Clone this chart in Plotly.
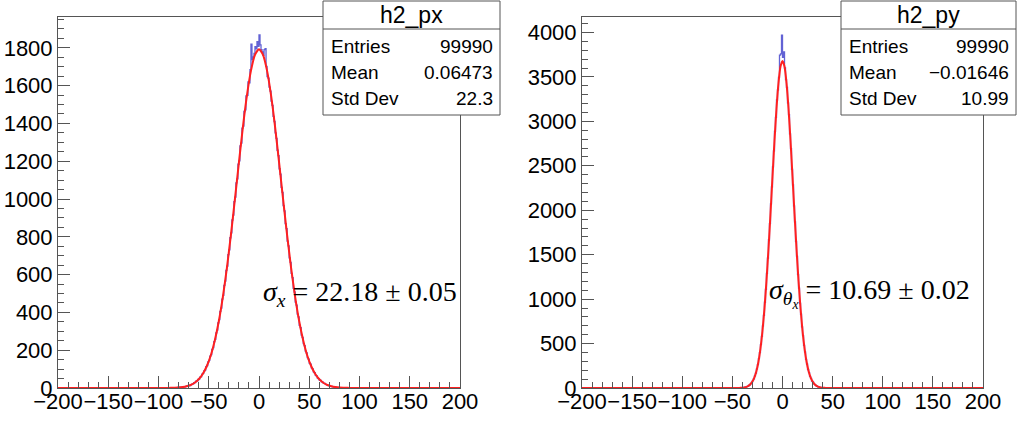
import plotly.graph_objects as go

W, H = 1017, 421

# ---------------- data ----------------
# h2_px : 1-unit bins, centres from -84.5 to 84.5
px_first_centre = -84.5
px_counts = [
    1, 0, 2, 1, 3, 2, 4, 3, 5, 4, 7, 6, 9, 11, 10, 14, 13, 18, 21, 22,
    28, 29, 36, 37, 45, 47, 57, 60, 73, 77, 91, 95, 113, 119, 138, 146, 169, 177, 204, 214,
    245, 257, 292, 306, 345, 362, 405, 423, 470, 490, 543, 566, 622, 645, 706, 731, 795, 821, 889, 915,
    986, 1010, 1085, 1106, 1184, 1202, 1281, 1296, 1375, 1386, 1463, 1472, 1546, 1548, 1620, 1615, 1685, 1820, 1738, 1752,
    1770, 1806, 1795, 1832, 1808,
    1868, 1815, 1790, 1778, 1760, 1790, 1795, 1702, 1648, 1640, 1592, 1571, 1518, 1495, 1437, 1410, 1350, 1321, 1258, 1230,
    1160, 1131, 1062, 1035, 965, 937, 870, 843, 777, 752, 688, 665, 606, 584, 527, 508, 455, 439, 391, 376,
    332, 319, 280, 268, 235, 224, 195, 186, 161, 153, 131, 126, 106, 101, 85, 81, 67, 64, 53, 50,
    41, 40, 32, 31, 25, 24, 19, 18, 14, 13, 11, 9, 8, 7, 5, 6, 4, 3, 3, 2,
    2, 1, 1, 1, 0,
]

# h2_py : 1-unit bins, centres from -44.5 to 44.5
py_first_centre = -44.5
py_counts = [
    1, 1, 2, 2, 3, 5, 6, 9, 10, 16, 19, 28, 36, 49, 62, 82, 104, 136, 168, 215,
    263, 330, 398, 489, 580, 698, 818, 965, 1110, 1290, 1462, 1668, 1850, 2072, 2262, 2487, 2668, 2888, 3045, 3240,
    3355, 3495, 3745, 3760, 3970,
    3720, 3780, 3600, 3470, 3382, 3208, 3075, 2860, 2694, 2460, 2284, 2050, 1870, 1648, 1480, 1275, 1124, 952, 830, 688,
    590, 480, 406, 322, 270, 208, 174, 130, 108, 78, 65, 46, 38, 26, 21, 14, 12, 7, 6, 4,
    3, 2, 1, 1, 0,
]

# Gaussian fit curves
fit_px_x = [-200, -100, -96, -92, -88, -84, -80, -76, -72, -68, -64, -60, -56, -52, -48, -44, -40, -36, -32, -28,
            -24, -20, -16, -12, -8, -4, 0, 4, 8, 12, 16, 20, 24, 28, 32, 36, 40, 44, 48, 52,
            56, 60, 64, 68, 72, 76, 80, 84, 88, 92, 96, 100, 200]
fit_px_y = [0, 0.07, 0.15, 0.3, 0.7, 1.4, 2.7, 5.0, 9.3, 16, 28, 46, 74, 115, 172, 251, 353, 481, 633, 808,
            998, 1192, 1382, 1548, 1679, 1763, 1792, 1763, 1679, 1548, 1382, 1192, 998, 808, 633, 481, 353, 251, 172, 115,
            74, 46, 28, 16, 9.3, 5.0, 2.7, 1.4, 0.7, 0.3, 0.15, 0.07, 0]

fit_py_x = [-200, -50, -48, -46, -44, -42, -40, -38, -36, -34, -32, -30, -28, -26, -24, -22, -20, -18, -16, -14,
            -12, -10, -8, -6, -4, -2, 0, 2, 4, 6, 8, 10, 12, 14, 16, 18, 20, 22, 24, 26,
            28, 30, 32, 34, 36, 38, 40, 42, 44, 46, 48, 50, 200]
fit_py_y = [0, 0.06, 0.15, 0.35, 0.8, 1.6, 3.3, 6.6, 12.7, 23, 42, 72, 119, 191, 295, 442, 639, 894, 1202, 1561,
            1956, 2375, 2781, 3144, 3431, 3616, 3680, 3616, 3431, 3144, 2781, 2375, 1956, 1561, 1202, 894, 639, 442, 295, 191,
            119, 72, 42, 23, 12.7, 6.6, 3.3, 1.6, 0.8, 0.35, 0.15, 0.06, 0]

x_ticks = [-200, -150, -100, -50, 0, 50, 100, 150, 200]

stats_px = {"title": "h2_px", "Entries": "99990", "Mean": "0.06473", "Std Dev": "22.3"}
stats_py = {"title": "h2_py", "Entries": "99990", "Mean": "\u22120.01646", "Std Dev": "10.99"}

fit_label_px = "<i>\u03c3<sub>x</sub></i> = 22.18 \u00b1 0.05"
fit_label_py = "<i>\u03c3<sub>\u03b8<sub>x</sub></sub></i> = 10.69 \u00b1 0.02"

# ---------------- figure ----------------
def centres(first, n):
    return [first + i for i in range(n)]

HIST_COL = "rgba(70,70,205,0.85)"
FIT_COL = "#ff2020"

fig = go.Figure()
hx1 = centres(px_first_centre, len(px_counts))
hx2 = centres(py_first_centre, len(py_counts))
fig.add_trace(go.Scatter(x=[-200] + hx1 + [200], y=[0] + px_counts + [0], mode="lines",
                         line=dict(color=HIST_COL, width=1.3, shape="hvh"), xaxis="x", yaxis="y"))
fig.add_trace(go.Scatter(x=fit_px_x, y=fit_px_y, mode="lines",
                         line=dict(color=FIT_COL, width=2, shape="spline", smoothing=0.6), xaxis="x", yaxis="y"))
fig.add_trace(go.Scatter(x=[-200] + hx2 + [200], y=[0] + py_counts + [0], mode="lines",
                         line=dict(color=HIST_COL, width=1.3, shape="hvh"), xaxis="x2", yaxis="y2"))
fig.add_trace(go.Scatter(x=fit_py_x, y=fit_py_y, mode="lines",
                         line=dict(color=FIT_COL, width=2, shape="spline", smoothing=0.6), xaxis="x2", yaxis="y2"))

def px2x(p):
    return p / W

def px2y(p):
    return 1 - p / H

AX_COL = "#555555"
TICK_FONT = dict(family="Liberation Sans, Arial, sans-serif", size=22, color="black")

def xaxis(dom, anchor):
    return dict(domain=dom, anchor=anchor, range=[-200, 200], tickvals=x_ticks, tickangle=0,
                ticklabelstandoff=-6,
                ticks="inside", ticklen=12, tickcolor=AX_COL, tickwidth=1,
                minor=dict(ticks="inside", ticklen=6, dtick=10, tickcolor=AX_COL, tickwidth=1, showgrid=False),
                showline=True, linecolor=AX_COL, linewidth=1, mirror=True, automargin=False,
                showgrid=False, zeroline=False, tickfont=TICK_FONT)

def yaxis(dom, anchor, top, dtick, mdtick):
    return dict(domain=dom, anchor=anchor, range=[0, top], dtick=dtick, tick0=0, tickangle=0,
                ticks="inside", ticklen=12, tickcolor=AX_COL, tickwidth=1,
                minor=dict(ticks="inside", ticklen=6, dtick=mdtick, tickcolor=AX_COL, tickwidth=1, showgrid=False),
                showline=True, linecolor=AX_COL, linewidth=1, mirror=True, automargin=False,
                showgrid=False, zeroline=False, tickfont=TICK_FONT)

ydom = [px2y(388), px2y(17)]
fig.update_layout(
    width=W, height=H, margin=dict(l=0, r=0, t=0, b=0, autoexpand=False),
    paper_bgcolor="white", plot_bgcolor="white", showlegend=False,
    xaxis=xaxis([px2x(58), px2x(460)], "y"),
    yaxis=yaxis(ydom, "x", 1963, 200, 50),
    xaxis2=xaxis([px2x(582), px2x(983)], "y2"),
    yaxis2=yaxis(ydom, "x2", 4174, 500, 100),
)

shapes = []
annotations = []
STAT_FONT = dict(family="Liberation Sans, Arial, sans-serif", size=19, color="black")

def stats_box(x0, x1, stats):
    y0, y1, ydiv = 1, 115, 29
    shapes.append(dict(type="rect", xref="paper", yref="paper", x0=px2x(x0), x1=px2x(x1),
                       y0=px2y(y1), y1=px2y(y0), fillcolor="white",
                       line=dict(color=AX_COL, width=1), layer="above"))
    shapes.append(dict(type="line", xref="paper", yref="paper", x0=px2x(x0), x1=px2x(x1),
                       y0=px2y(ydiv), y1=px2y(ydiv), line=dict(color=AX_COL, width=1), layer="above"))
    annotations.append(dict(xref="paper", yref="paper", x=px2x((x0 + x1) / 2), y=px2y(15),
                            text=stats["title"], showarrow=False, xanchor="center", yanchor="middle",
                            font=dict(family="Liberation Sans, Arial, sans-serif", size=23, color="black")))
    for i, key in enumerate(["Entries", "Mean", "Std Dev"]):
        yy = px2y(46 + 26 * i)
        annotations.append(dict(xref="paper", yref="paper", x=px2x(x0 + 6), y=yy, text=key,
                                showarrow=False, xanchor="left", yanchor="middle", font=STAT_FONT))
        annotations.append(dict(xref="paper", yref="paper", x=px2x(x1 - 5), y=yy, text=stats[key],
                                showarrow=False, xanchor="right", yanchor="middle", font=STAT_FONT))

stats_box(323, 500, stats_px)
stats_box(841, 1016, stats_py)

LBL_FONT = dict(family="Liberation Serif, Times New Roman, serif", size=28, color="black")
annotations.append(dict(xref="paper", yref="paper", x=px2x(261), y=px2y(293), text=fit_label_px,
                        showarrow=False, xanchor="left", yanchor="middle", font=LBL_FONT))
annotations.append(dict(xref="paper", yref="paper", x=px2x(767), y=px2y(293), text=fit_label_py,
                        showarrow=False, xanchor="left", yanchor="middle", font=LBL_FONT))

fig.update_layout(shapes=shapes, annotations=annotations)
fig.write_html("out.html", config={"displayModeBar": False},
               post_script="document.body.style.margin='0';document.body.style.overflow='hidden';")
